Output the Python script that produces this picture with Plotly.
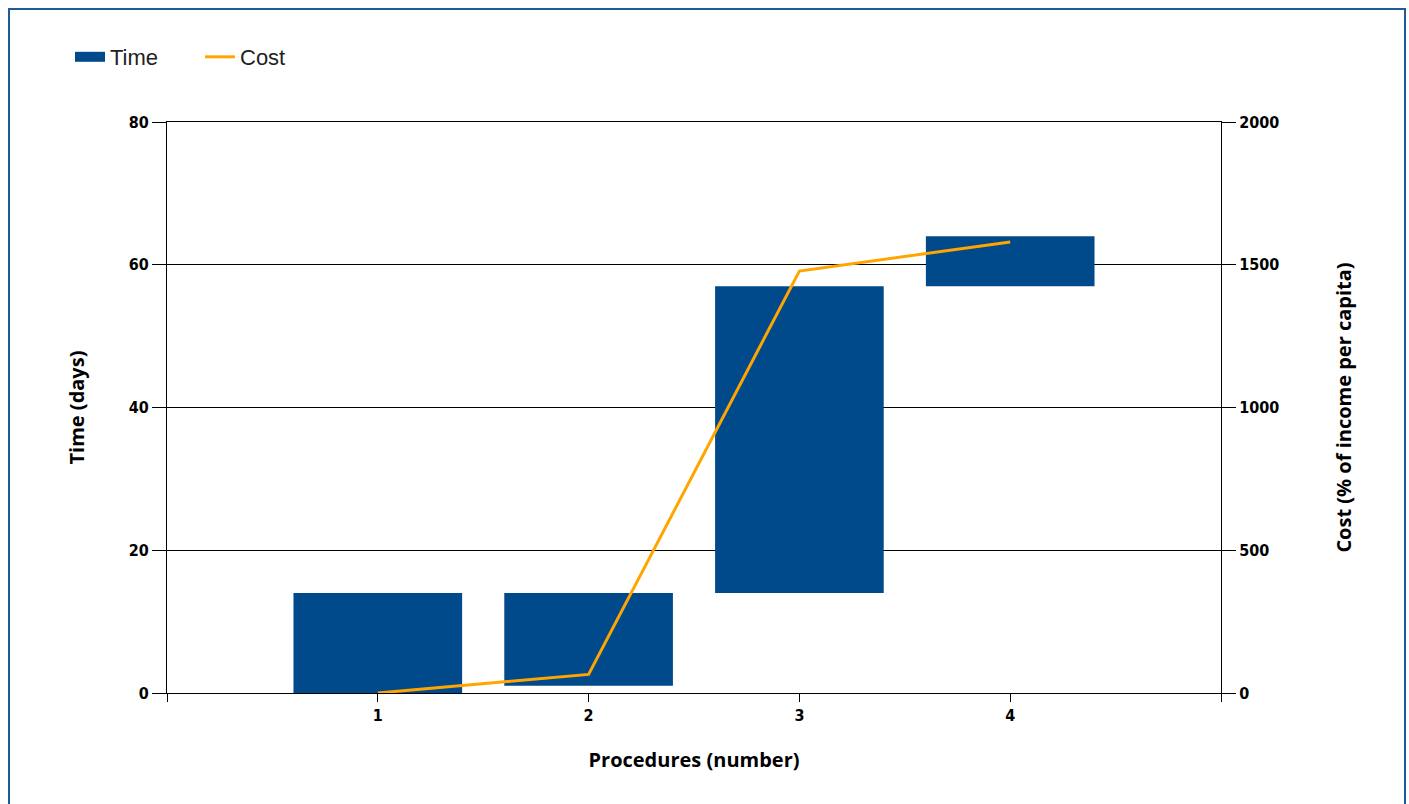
import plotly.graph_objects as go

procedures = [1, 2, 3, 4]
time_start = [0, 1, 14, 57]
time_end = [14, 14, 57, 64]
cost = [0, 65, 1478, 1580]
x_ticks = [0, 1, 2, 3, 4, 5]
x_ticktext = ["", "1", "2", "3", "4", ""]

BAR = "#004A8C"
ORANGE = "#FFA500"
W, H = 1409, 804
L, R, T, B = 167, 188, 122, 111
pw, ph = W - L - R, H - T - B

heights = [e - s for s, e in zip(time_start, time_end)]

fig = go.Figure()
fig.add_trace(go.Bar(x=procedures, y=heights, base=time_start, width=0.8,
                     marker=dict(color=BAR, line=dict(width=0)),
                     name="Time", legendgroup="time", showlegend=False))
fig.add_trace(go.Scatter(x=[None], y=[None], mode="lines", name="Time",
                         legendgroup="time",
                         line=dict(color=BAR, width=15)))
fig.add_trace(go.Scatter(x=procedures, y=cost, mode="lines", name="Cost",
                         yaxis="y2", line=dict(color=ORANGE, width=3)))

tickfont = dict(family="DejaVu Sans Condensed, DejaVu Sans", size=16,
                color="#000000", weight="bold")
titlefont = dict(family="Open Sans", size=20, color="#000000", weight="bold")

fig.update_layout(
    width=W, height=H,
    margin=dict(l=L, r=R, t=T, b=B),
    paper_bgcolor="white", plot_bgcolor="white",
    showlegend=True,
    legend=dict(orientation="h", x=(70 - L) / pw, y=(H - B - 57) / ph,
                xanchor="left", yanchor="middle",
                font=dict(family="Liberation Sans", size=22, color="#222222"),
                entrywidth=85, entrywidthmode="pixels",
                bgcolor="rgba(0,0,0,0)"),
    xaxis=dict(range=[0, 5], tickvals=x_ticks, ticktext=x_ticktext,
               showgrid=False, zeroline=False, showline=True, linecolor="#000000",
               linewidth=1, mirror=True, ticks="outside", ticklen=8,
               tickcolor="#000000", tickfont=tickfont,
               title=dict(text="Procedures (number)", font=titlefont, standoff=28)),
    yaxis=dict(range=[0, 80], dtick=20, showgrid=True, gridcolor="#000000",
               gridwidth=1, zeroline=False, showline=True, linecolor="#000000",
               linewidth=1, ticks="outside", ticklen=14, tickcolor="#000000",
               tickfont=tickfont,
               title=dict(text="Time (days)", font=titlefont, standoff=38)),
    yaxis2=dict(range=[0, 2000], dtick=500, overlaying="y", side="right",
                showgrid=False, zeroline=False, showline=True, linecolor="#000000",
                linewidth=1, ticks="outside", ticklen=14, tickcolor="#000000",
                tickfont=tickfont,
                title=dict(text="Cost (% of income per capita)", font=titlefont,
                           standoff=58)),
    shapes=[dict(type="rect", xref="paper", yref="paper",
                 x0=(9 - L) / pw, x1=(1405 - L) / pw,
                 y0=(H - B - 830) / ph, y1=(H - B - 9) / ph,
                 line=dict(color="#1F5A9A", width=2), fillcolor="rgba(0,0,0,0)",
                 layer="below")],
)

fig.write_html("out.html", config={"displayModeBar": False},
               post_script="document.body.style.margin='0';")
